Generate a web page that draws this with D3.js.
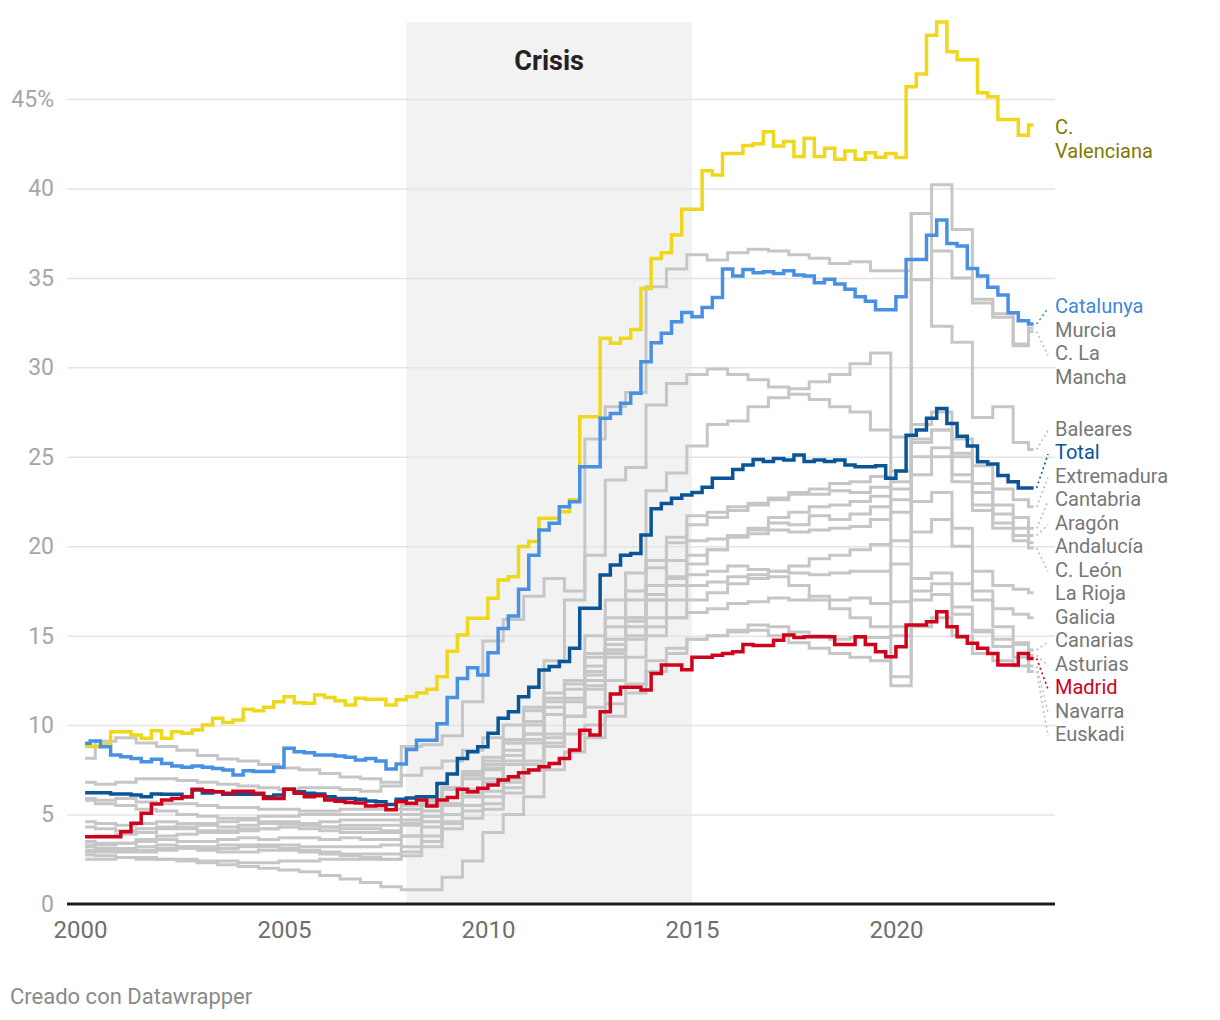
<!DOCTYPE html>
<html><head><meta charset="utf-8">
<script src="https://cdn.jsdelivr.net/npm/d3@7"></script>
<style>
body{margin:0;background:#fff;}
svg text{font-family:Roboto,"Noto Sans",sans-serif;}
</style>
</head><body>
<svg id="chart" width="1220" height="1020"></svg>
<script>
// ---------- categories ----------
const years = d3.range(2000, 2024);
const quarters = years.flatMap(y => [1,2,3,4].filter(q => y < 2023 || q <= 2).map(q => y + "T" + q));
const halfYears = years.flatMap(y => y < 2023 ? [y + "T1", y + "T3"] : [y + "T1", y + "T2"]);
const xTicks = [2000, 2005, 2010, 2015, 2020];
const yTicks = [0, 5, 10, 15, 20, 25, 30, 35, 40, 45];
const crisis = [2008, 2015];

// ---------- highlighted series (quarterly) ----------
const valenciana = [8.8,8.8,8.9,9.63, 9.63,9.45,9.26,9.69, 9.26,9.63,9.54,9.73, 10.0,10.38,10.14,10.28,
 10.88,10.8,11.0,11.31, 11.59,11.25,11.22,11.68, 11.55,11.36,11.12,11.5, 11.44,11.44,11.12,11.42,
 11.59,11.79,12.0,12.71, 14.13,15.04,15.97,15.97, 17.09,18.11,18.3,19.98, 20.26,21.56,21.56,21.93,
 22.6,27.24,27.24,31.62, 31.34,31.62,32.12,34.41, 36.09,36.41,37.4,38.83, 38.83,40.99,40.75,41.96,
 41.96,42.4,42.5,43.17, 42.37,42.62,41.78,42.8, 41.78,42.24,41.63,42.1, 41.63,42.0,41.75,41.95,
 41.73,45.68,46.4,48.57, 49.3,47.64,47.2,47.2, 45.35,45.13,43.86,43.86, 42.98,43.54];
const catalunya = [8.98,9.11,8.79,8.33, 8.23,8.14,7.95,8.09, 7.86,7.71,7.64,7.71, 7.64,7.58,7.49,7.21,
 7.45,7.4,7.4,7.64, 8.7,8.51,8.45,8.33, 8.33,8.28,8.2,8.05, 8.14,8.0,7.55,7.82,
 8.63,9.15,9.15,10.08, 11.55,12.6,13.2,12.8, 14.05,15.4,16.1,17.6, 19.5,20.9,21.28,22.2,
 22.49,24.44,24.44,27.15, 27.42,27.99,28.55,30.31, 31.38,31.9,32.55,33.06, 32.83,33.35,33.9,35.5,
 35.1,35.47,35.29,35.34, 35.25,35.4,35.16,35.1, 34.73,34.92,34.66,34.36, 33.95,33.7,33.22,33.22,
 33.95,36.03,36.03,37.39, 38.23,36.92,36.78,35.53, 35.1,34.47,34.04,33.05, 32.6,32.42];
const total = [6.22,6.22,6.22,6.15, 6.15,6.09,6.0,6.15, 6.13,6.13,6.0,6.37, 6.2,6.28,6.13,6.13,
 6.13,6.13,6.0,6.09, 6.41,6.28,6.19,6.15, 6.0,5.9,5.9,5.85, 5.76,5.72,5.56,5.85,
 5.93,6.0,6.0,6.74, 7.27,8.14,8.51,8.79, 9.54,10.38,10.75,11.59, 12.11,13.08,13.27,13.55,
 14.29,16.53,16.53,18.39, 18.95,19.5,19.6,20.63, 22.1,22.39,22.68,22.86, 23.0,23.3,23.8,23.8,
 24.29,24.54,24.85,24.73, 24.91,24.82,25.1,24.73, 24.82,24.73,24.82,24.54, 24.44,24.44,24.5,23.8,
 24.2,26.2,26.5,27.15, 27.7,26.86,26.15,25.6, 24.72,24.6,23.95,23.6, 23.25,23.25];
const madrid = [3.76,3.76,3.76,3.76, 4.04,4.51,5.07,5.59, 5.81,5.9,6.0,6.41, 6.33,6.28,6.19,6.3,
 6.3,6.19,5.9,5.9, 6.41,6.19,6.0,6.05, 5.81,5.75,5.67,5.65, 5.48,5.5,5.27,5.72,
 5.63,5.81,5.48,5.81, 5.96,6.41,6.28,6.47, 6.65,6.93,7.12,7.34, 7.49,7.67,7.86,8.14,
 8.61,9.71,9.45,10.75, 11.74,12.11,12.11,11.96, 12.89,13.36,13.36,13.1, 13.8,13.8,13.9,14.0,
 14.1,14.5,14.45,14.45, 14.75,15.04,14.9,14.94, 14.94,14.94,14.5,14.5, 14.94,14.5,14.1,13.82,
 14.38,15.6,15.6,15.78, 16.34,15.5,14.94,14.57, 14.29,14.01,13.36,13.36, 14.01,13.73];

// ---------- grey series (half-yearly) ----------
const murcia = [2.74,2.7, 2.6,2.6, 2.5,2.5, 2.4,2.4, 2.3,2.3, 2.4,2.4, 2.5,2.5, 2.5,2.5, 2.7,3.2, 4.5,6.0,
 7.6,9.2, 11.0,13.6, 17.0,19.5, 23.7,24.4, 27.9,29.1, 29.6,29.9, 29.6,29.3, 28.9,28.5, 28.2,27.8, 27.5,26.5,
 26.1,34.9, 36.5,35.0, 33.8,33.0, 31.2,32.2];
const laMancha = [6.8,6.7, 6.8,7.0, 7.0,6.9, 6.8,6.7, 6.6,6.5, 6.4,6.5, 6.5,6.4, 6.3,6.6, 8.8,8.9, 9.4,11.3,
 14.7,15.9, 17.2,18.2, 17.5,26.0, 27.8,28.6, 34.5,35.5, 36.3,36.0, 36.4,36.6, 36.5,36.3, 36.1,35.8, 35.9,35.4,
 35.4,38.6, 40.2,37.7, 33.6,32.8, 31.3,32.0];
const baleares = [3.76,3.8, 3.9,4.0, 4.2,4.3, 4.5,4.6, 4.8,4.9, 4.9,5.0, 5.0,5.0, 5.0,5.0, 5.3,5.8, 6.5,7.3,
 8.2,9.0, 10.2,11.5, 12.5,15.0, 17.0,18.5, 23.1,24.1, 25.6,26.8, 27.0,27.8, 28.3,28.8, 29.2,29.6, 30.2,30.8,
 12.2,38.6, 32.3,31.4, 27.2,27.8, 25.8,25.4];
const extremadura = [3.3,3.3, 3.4,3.6, 3.8,3.9, 4.0,4.1, 4.2,4.2, 4.3,4.2, 4.1,4.0, 4.0,4.0, 4.5,5.5, 6.5,7.4,
 8.0,9.0, 10.0,11.3, 12.5,13.8, 15.5,17.0, 18.8,20.2, 21.2,21.6, 22.0,22.3, 22.7,23.0, 23.2,23.5, 23.6,23.9,
 24.2,26.8, 27.5,26.0, 24.5,23.2, 22.6,22.2];
const cantabria = [3.2,3.1, 3.1,3.2, 3.3,3.2, 3.1,3.1, 3.2,3.3, 3.3,3.2, 3.2,3.2, 3.2,3.3, 3.8,4.6, 5.5,6.2,
 6.8,7.8, 9.0,10.6, 12.0,14.0, 16.0,17.5, 19.2,20.5, 21.7,21.9, 22.2,22.4, 22.6,22.9, 22.9,23.1, 23.0,23.3,
 23.6,25.8, 26.5,25.2, 23.5,22.3, 21.6,21.0];
const aragon = [4.6,4.5, 4.4,4.5, 4.6,4.5, 4.4,4.3, 4.4,4.5, 4.6,4.5, 4.6,4.7, 4.7,4.7, 5.0,5.6, 6.4,7.0,
 7.5,8.3, 9.5,11.0, 12.3,13.0, 14.8,16.0, 17.3,18.3, 19.0,19.8, 20.5,21.0, 21.6,21.9, 22.2,22.3, 22.5,22.8,
 23.2,26.0, 26.5,25.0, 23.0,21.8, 21.0,20.6];
const andalucia = [5.9,5.8, 5.9,5.7, 5.6,5.6, 5.5,5.4, 5.4,5.3, 5.3,5.2, 5.2,5.3, 5.3,5.3, 5.5,5.8, 6.5,7.2,
 7.8,8.6, 9.5,10.6, 11.3,12.2, 14.0,15.5, 17.0,18.2, 19.5,19.8, 20.6,20.9, 21.3,21.2, 21.7,21.5, 21.8,22.2,
 22.6,25.0, 25.5,24.0, 22.3,21.3, 20.6,20.2];
const castillaLeon = [3.0,3.0, 2.9,2.9, 3.0,3.1, 3.0,2.9, 2.9,3.0, 3.0,2.9, 2.8,2.8, 2.8,2.8, 3.2,3.8, 4.6,5.2,
 5.6,6.5, 7.8,9.3, 10.5,12.0, 14.2,16.0, 17.8,19.2, 20.3,20.4, 20.6,20.7, 20.9,20.8, 20.9,21.0, 21.1,21.5,
 21.9,24.0, 25.0,23.6, 22.0,21.0, 20.3,19.9];
const laRioja = [2.9,2.9, 3.0,3.0, 3.1,3.2, 3.2,3.3, 3.3,3.2, 3.1,3.0, 2.9,2.7, 2.6,2.5, 2.9,3.5, 4.2,4.8,
 5.3,6.2, 7.5,9.0, 10.5,12.5, 13.8,15.0, 16.0,17.0, 17.8,18.0, 18.3,18.4, 18.6,18.5, 18.4,18.5, 18.6,18.6,
 19.0,20.8, 21.5,20.0, 18.6,17.8, 17.6,17.4];
const galicia = [8.15,9.1, 9.3,9.0, 8.8,8.6, 8.3,8.1, 8.0,7.8, 7.6,7.5, 7.3,7.1, 7.0,6.8, 7.2,7.6, 8.0,8.6,
 9.3,10.0, 10.8,11.8, 12.5,13.3, 14.2,14.8, 15.5,16.0, 16.3,16.5, 16.8,16.9, 17.1,17.0, 17.2,17.0, 17.1,16.8,
 16.9,18.2, 18.5,17.9, 17.0,16.5, 16.2,16.0];
const canarias = [4.3,4.2, 4.1,4.2, 4.3,4.2, 4.1,4.0, 4.1,4.2, 4.3,4.4, 4.3,4.4, 4.4,4.4, 4.7,5.2, 5.6,6.0,
 6.3,7.0, 7.8,8.8, 9.5,10.0, 11.2,12.3, 13.6,14.3, 14.8,15.0, 15.3,15.6, 15.5,15.2, 15.0,14.8, 14.9,14.9,
 15.0,17.0, 17.3,16.2, 15.2,14.8, 14.5,14.2];
const asturias = [3.5,3.4, 3.4,3.5, 3.6,3.5, 3.5,3.6, 3.7,3.6, 3.7,3.7, 3.6,3.7, 3.6,3.6, 3.8,4.3, 5.0,5.5,
 6.0,6.8, 8.0,9.5, 10.5,11.0, 12.5,13.8, 15.0,16.0, 17.0,17.4, 17.9,18.2, 18.6,18.9, 19.3,19.5, 19.8,20.1,
 20.3,22.5, 23.0,21.0, 17.5,15.5, 14.6,13.9];
const navarra = [5.8,5.6, 5.5,5.3, 5.2,5.0, 4.9,4.8, 4.7,4.6, 4.5,4.4, 4.3,4.2, 4.2,4.1, 4.4,4.9, 5.6,6.4,
 7.0,8.0, 9.2,10.6, 11.5,12.8, 14.5,15.8, 17.0,17.8, 18.4,18.6, 18.9,18.7, 18.3,17.8, 17.0,16.5, 16.0,15.5,
 15.5,17.5, 17.9,16.6, 15.3,14.4, 13.8,13.3];
const euskadi = [2.5,2.5, 2.6,2.5, 2.5,2.4, 2.3,2.2, 2.1,2.0, 1.9,1.8, 1.6,1.4, 1.2,0.97, 0.8,0.8, 1.5,2.4,
 4.0,5.0, 6.0,7.5, 8.5,9.3, 10.5,11.8, 13.0,14.0, 14.8,15.0, 15.2,15.3, 15.0,14.6, 14.3,14.0, 13.8,13.6,
 12.7,15.5, 16.0,15.0, 14.0,13.6, 13.3,13.0];

// ---------- build series ----------
const parsePeriod = p => { const [y, q] = p.split("T").map(Number); return y + (q - 1) / 4 + 0.125; };
const mk = (dates, vals) => dates.map((d, i) => ({ t: parsePeriod(d), v: vals[i] }));

const greys = [
  ["Murcia", murcia], ["C. La|Mancha", laMancha], ["Baleares", baleares], ["Extremadura", extremadura],
  ["Cantabria", cantabria], ["Aragón", aragon], ["Andalucía", andalucia], ["C. León", castillaLeon],
  ["La Rioja", laRioja], ["Galicia", galicia], ["Canarias", canarias], ["Asturias", asturias],
  ["Navarra", navarra], ["Euskadi", euskadi]
].map(([name, vals]) => ({ name, pts: mk(halfYears, vals), color: "#c6c6c6", text: "#777", conn: "#bdbdbd", w: 3 }));

const highlights = [
  { name: "C.|Valenciana", pts: mk(quarters, valenciana), color: "#efd81c", text: "#817a00", conn: "#efd81c", w: 3.5 },
  { name: "Catalunya", pts: mk(quarters, catalunya), color: "#4a90e2", text: "#3f87d8", conn: "#4a90e2", w: 3.5 },
  { name: "Total", pts: mk(quarters, total), color: "#0a5596", text: "#0a5596", conn: "#0a5596", w: 3.5 },
  { name: "Madrid", pts: mk(quarters, madrid), color: "#d0021b", text: "#d0021b", conn: "#d0021b", w: 3.5 }
];
const all = greys.concat(highlights);

// ---------- scales ----------
const svg = d3.select("#chart");
const x = d3.scaleLinear().domain([2000, 2023.9]).range([80, 1055]);
const y = d3.scaleLinear().domain([0, 45]).range([904, 99]);
const gridLeft = 67, gridRight = 1055;
const maxV = d3.max(all, s => d3.max(s.pts, p => p.v));

// crisis band
svg.append("rect")
  .attr("x", x(crisis[0])).attr("width", x(crisis[1]) - x(crisis[0]))
  .attr("y", y(maxV)).attr("height", y(0) - y(maxV))
  .attr("fill", "#f2f2f2");
svg.append("text")
  .attr("x", (x(crisis[0]) + x(crisis[1])) / 2).attr("y", y(maxV) + 41)
  .attr("text-anchor", "middle").attr("dominant-baseline", "middle")
  .attr("font-size", 27).attr("font-weight", 700).attr("fill", "#222")
  .text("Crisis");

// y axis + grid
const yAxis = d3.axisLeft(y).tickValues(yTicks)
  .tickSize(-(gridRight - gridLeft)).tickPadding(13)
  .tickFormat(d => d === 45 ? "45%" : d);
const gy = svg.append("g").attr("transform", `translate(${gridLeft},0)`).call(yAxis);
gy.select(".domain").remove();
gy.selectAll(".tick line").attr("stroke", "#e4e4e4").attr("stroke-width", 1.5)
  .filter(d => d === 0).remove();
gy.selectAll(".tick text").attr("font-size", 23).attr("fill", "#a6a6a6")
  .attr("font-family", "Roboto, sans-serif");

// x axis
const xAxis = d3.axisBottom(x).tickValues(xTicks).tickSize(0).tickPadding(17).tickFormat(d3.format("d"));
const gx = svg.append("g").attr("transform", `translate(0,${y(0)})`).call(xAxis);
gx.select(".domain").remove();
gx.selectAll(".tick text").attr("font-size", 24).attr("fill", "#6f6f6f")
  .attr("font-family", "Roboto, sans-serif");

// lines
const line = d3.line().x(p => x(p.t)).y(p => y(p.v)).curve(d3.curveStep);
svg.append("g").selectAll("path").data(all).join("path")
  .attr("d", s => line(s.pts)).attr("fill", "none")
  .attr("stroke", s => s.color).attr("stroke-width", s => s.w)
  .attr("stroke-linejoin", "miter").attr("stroke-linecap", "butt");

// baseline
svg.append("line").attr("x1", gridLeft).attr("x2", gridRight)
  .attr("y1", y(0)).attr("y2", y(0)).attr("stroke", "#1d1d1d").attr("stroke-width", 3);

// ---------- labels with simple collision resolution ----------
const labelFont = 20, lineStep = 24, rowH = 23.5, textShift = 4;
const items = all.map(s => {
  const last = s.pts[s.pts.length - 1];
  const lines = s.name.split("|");
  return { s, lines, ex: x(last.t), ey: y(last.v), desired: y(last.v), h: rowH + (lines.length - 1) * lineStep };
}).sort((a, b) => a.desired - b.desired);

let clusters = items.map(it => ({ items: [it] }));
const place = c => {
  let off = 0;
  c.items.forEach(it => { it.off = off; off += it.h; });
  c.h = off;
  c.top = d3.mean(c.items, it => it.desired - it.off);
};
clusters.forEach(place);
let changed = true;
while (changed) {
  changed = false;
  for (let i = 0; i < clusters.length - 1; i++) {
    const a = clusters[i], b = clusters[i + 1];
    if (a.top + a.h > b.top + 0.01) {
      a.items = a.items.concat(b.items);
      clusters.splice(i + 1, 1);
      place(a);
      changed = true;
      break;
    }
  }
}
clusters.forEach(c => c.items.forEach(it => it.ly = c.top + it.off + textShift));

const labelX = 1055;
const lg = svg.append("g");
items.forEach(it => {
  if (Math.abs(it.ly - it.ey) > 6) {
    lg.append("line").attr("x1", it.ex + 3).attr("y1", it.ey)
      .attr("x2", labelX - 7).attr("y2", it.ly)
      .attr("stroke", it.s.conn).attr("stroke-width", 1.6).attr("stroke-dasharray", "2,3");
  }
  const t = lg.append("text").attr("x", labelX).attr("y", it.ly)
    .attr("font-size", labelFont).attr("fill", it.s.text).attr("dominant-baseline", "middle");
  it.lines.forEach((ln, i) => t.append("tspan").attr("x", labelX).attr("y", it.ly + i * lineStep).text(ln));
});

// footer
svg.append("text").attr("x", 10).attr("y", 1004)
  .attr("font-size", 22).attr("fill", "#8a8a8a").text("Creado con Datawrapper");
</script>
</body></html>
